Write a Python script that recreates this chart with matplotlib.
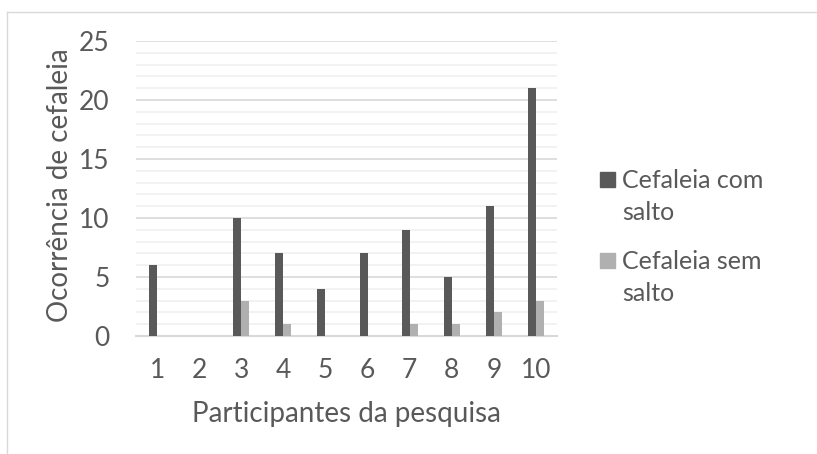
import matplotlib.pyplot as plt
import numpy as np
from matplotlib.lines import Line2D
from matplotlib.patches import Rectangle
from matplotlib.ticker import MultipleLocator

plt.rcParams['font.family'] = ['Lato', 'DejaVu Sans']

participantes = ['1', '2', '3', '4', '5', '6', '7', '8', '9', '10']
com_salto = [6, 0, 10, 7, 4, 7, 9, 5, 11, 21]
sem_salto = [0, 0, 3, 1, 0, 0, 1, 1, 2, 3]
series = [('Cefaleia com', 'salto'), ('Cefaleia sem', 'salto')]
cores = ['#595959', '#B0B0B0']

txt = '#595959'
W, H = 817, 454
fig = plt.figure(figsize=(W / 100, H / 100), dpi=100)
ax = fig.add_axes([136 / W, 1 - 336 / H, 421 / W, 295 / H])

x = np.arange(len(participantes))
w = 0.19
ax.bar(x - w / 2, com_salto, w, color=cores[0], zorder=3)
ax.bar(x + w / 2, sem_salto, w, color=cores[1], zorder=3)

ax.set_xlim(-0.5, len(participantes) - 0.5)
ax.set_ylim(0, 25)
ax.yaxis.set_major_locator(MultipleLocator(5))
ax.yaxis.set_minor_locator(MultipleLocator(1))
ax.grid(axis='y', which='major', color='#D9D9D9', lw=1.2, zorder=0)
ax.grid(axis='y', which='minor', color='#F0F0F0', lw=1.2, zorder=0)
ax.set_xticks(x)
ax.set_xticklabels(participantes)
ax.tick_params(axis='both', which='both', length=0, labelsize=19, colors=txt)
ax.tick_params(axis='y', pad=19)
ax.tick_params(axis='x', pad=16)
for s in ['top', 'right', 'left']:
    ax.spines[s].set_visible(False)
ax.spines['bottom'].set_color('#D9D9D9')
ax.spines['bottom'].set_linewidth(1.5)

# títulos dos eixos
fig.text(346.5 / W, 1 - 422 / H, 'Participantes da pesquisa', fontsize=20,
         color=txt, ha='center', va='baseline')
fig.text(60 / W, 1 - 185 / H, 'Ocorrência de cefaleia', fontsize=20,
         color=txt, ha='center', va='center', rotation=90)

# legenda à direita, com o rótulo em duas linhas
topos = [172, 253]
for (l1, l2), cor, y0 in zip(series, cores, topos):
    fig.add_artist(Rectangle((600 / W, 1 - (y0 + 15) / H), 15 / W, 15 / H,
                             transform=fig.transFigure, color=cor))
    fig.text(622 / W, 1 - (y0 + 16) / H, l1, fontsize=18, color=txt, va='baseline')
    fig.text(622 / W, 1 - (y0 + 48) / H, l2, fontsize=18, color=txt, va='baseline')

# moldura clara do gráfico
fig.add_artist(Line2D([7 / W, 1], [1 - 12 / H, 1 - 12 / H], color='#D9D9D9', lw=1))
fig.add_artist(Line2D([7 / W, 7 / W], [0, 1 - 12 / H], color='#D9D9D9', lw=1))

fig.savefig('out.png', dpi=100)
